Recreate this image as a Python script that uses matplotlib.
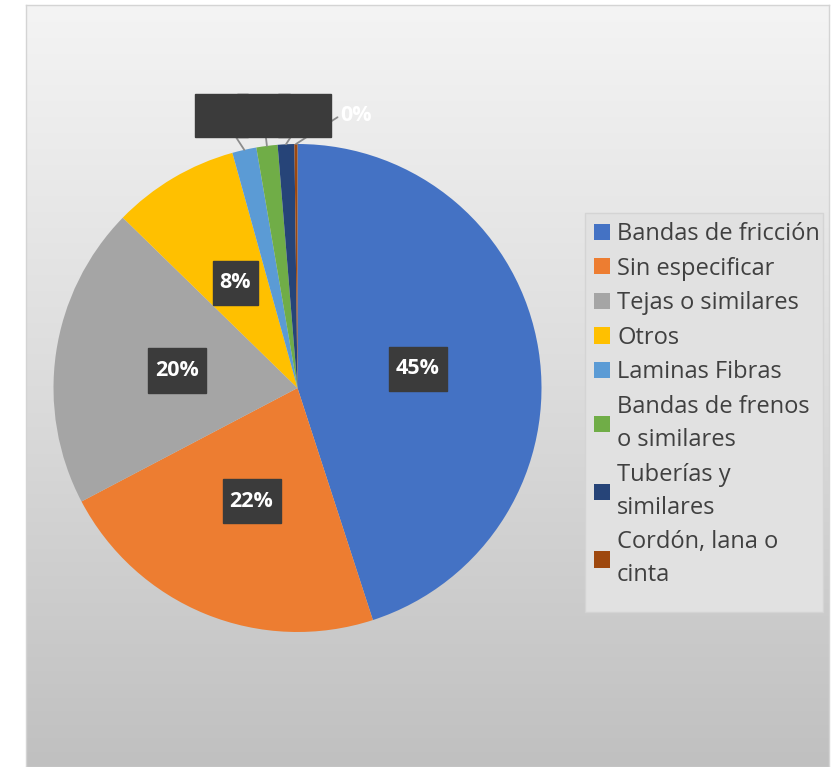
import numpy as np
import matplotlib
matplotlib.use("Agg")
import matplotlib.pyplot as plt
from matplotlib.path import Path
from matplotlib.patches import Rectangle

# data
categories = ["Bandas de fricción", "Sin especificar", "Tejas o similares", "Otros",
              "Laminas Fibras", "Bandas de frenos\no similares", "Tuberías y\nsimilares",
              "Cordón, lana o\ncinta"]
shares = [45.0, 22.3, 20.0, 8.4, 1.6, 1.4, 1.1, 0.2]
colors = ["#4472C4", "#ED7D31", "#A5A5A5", "#FFC000", "#5B9BD5", "#70AD47", "#264478", "#9E480E"]

# label positions for the crowded small slices (pie radius = 1)
small_label_x = [-0.31, -0.14, 0.03]
small_label_y = 1.117
tiny_label_x = 0.24

W, H = 833, 767
fig = plt.figure(figsize=(W / 100, H / 100), dpi=100)
fig.patch.set_facecolor("white")

# gradient chart background
bg = fig.add_axes([26 / W, 0, (829 - 26) / W, (H - 5) / H])
grad = np.linspace(0, 1, 256).reshape(-1, 1)
bg.imshow(grad, aspect="auto", cmap=matplotlib.colors.LinearSegmentedColormap.from_list(
    "bg", ["#f4f4f4", "#dcdcdc", "#c0c0c0"]), extent=[0, 1, 0, 1], origin="upper")
bg.set_xticks([])
bg.set_yticks([])
for s in bg.spines.values():
    s.set_color("#d4d4d4")
    s.set_linewidth(1.0)

# legend panel (Excel leaves extra room under the last entry)
fig.patches.append(Rectangle((585 / W, 1 - 612 / H), (823 - 585) / W, (612 - 213) / H,
                             transform=fig.transFigure, facecolor="#e1e1e1",
                             edgecolor="#d4d4d4", lw=1, zorder=1))

cx, cy, r = 297.5, H - 388, 244
ax = fig.add_axes([(cx - r) / W, (cy - r) / H, 2 * r / W, 2 * r / H])
ax.set_facecolor("none")


def label_box(x0, y0, width, height, mutation_size):
    # wider vertical than horizontal padding, like Excel data labels
    px, py = 0.33 * mutation_size, 0.55 * mutation_size
    x0, y0 = x0 - px, y0 - py
    x1, y1 = x0 + width + 2 * px, y0 + height + 2 * py
    return Path([(x0, y0), (x1, y0), (x1, y1), (x0, y1), (x0, y0)], closed=True)


label_font = dict(fontsize=15.5, fontweight="bold", family=["Open Sans", "DejaVu Sans"])
box_col = "#3b3b3b"
box = dict(boxstyle=label_box, facecolor=box_col, edgecolor=box_col)
small_box = dict(boxstyle="square,pad=0.5", facecolor=box_col, edgecolor=box_col)

wedges, _ = ax.pie(shares, colors=colors, startangle=90, counterclock=False,
                   radius=1.0, wedgeprops=dict(linewidth=0))

for w, v in zip(wedges, shares):
    if v < 5:
        continue
    mid = np.deg2rad((w.theta1 + w.theta2) / 2)
    ax.text(0.5 * np.cos(mid), 0.5 * np.sin(mid), f"{v:.0f}%", ha="center", va="center",
            color="white", bbox=box, **label_font)

# small slices: labels pile up into one dark block, text unreadable as in the original
for i, (w, v) in enumerate(zip(wedges[4:7], shares[4:7])):
    mid = np.deg2rad((w.theta1 + w.theta2) / 2)
    ax.annotate(f"{v:.0f}%", xy=(np.cos(mid), np.sin(mid)),
                xytext=(small_label_x[i], small_label_y), ha="center", va="center",
                color=box_col, bbox=small_box, zorder=5,
                arrowprops=dict(arrowstyle="-", color="#8c8c8c", lw=1.3, shrinkA=0, shrinkB=0),
                **label_font)

w = wedges[7]
mid = np.deg2rad((w.theta1 + w.theta2) / 2)
ax.annotate(f"{shares[7]:.0f}%", xy=(np.cos(mid), np.sin(mid)), xytext=(tiny_label_x, small_label_y),
            ha="center", va="center", zorder=4, color="white",
            arrowprops=dict(arrowstyle="-", color="#8c8c8c", lw=1.3, shrinkA=0, shrinkB=0,
                            relpos=(0.0, 0.5)),
            **label_font)

ax.set_xlim(-1, 1)
ax.set_ylim(-1, 1)
ax.set_aspect("equal")
ax.axis("off")

leg = fig.legend(wedges, categories, loc="upper left", bbox_to_anchor=(585 / W, 1 - 213 / H),
                 frameon=False, borderaxespad=0, borderpad=0.38,
                 handlelength=0.68, handleheight=0.68, handletextpad=0.3,
                 labelspacing=0.45,
                 prop=dict(family=["Open Sans", "DejaVu Sans"], size=17))
for t in leg.get_texts():
    t.set_color("#404040")
    t.set_linespacing(1.5)

fig.savefig("out.png", dpi=100)
